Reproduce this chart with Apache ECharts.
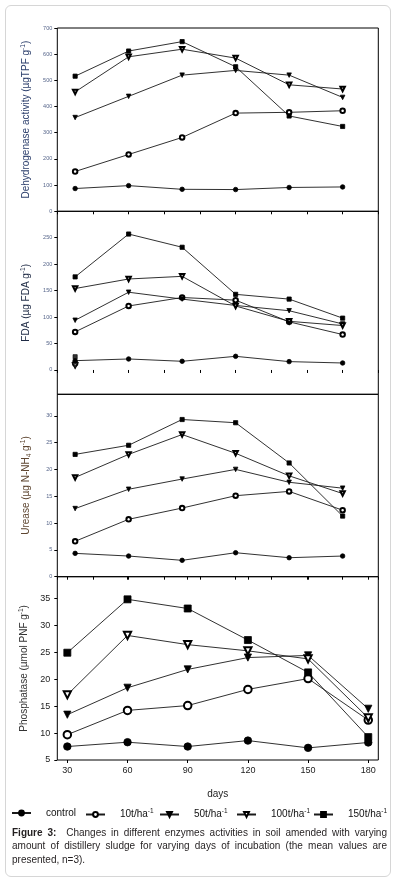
<!DOCTYPE html>
<html lang="en">
<head>
<meta charset="UTF-8">
<title>Figure 3</title>
<script src="https://cdn.jsdelivr.net/npm/echarts@6/dist/echarts.min.js"></script>
<style>
body{margin:0;background:#fff;}
#frame{position:absolute;left:5px;top:5px;width:386px;height:872px;border:1.5px solid #d6d6d6;border-radius:6px;box-sizing:border-box;}
#myChart{position:absolute;left:0;top:0;width:394px;height:884px;}
#caption{position:absolute;left:12px;top:826px;width:375px;font-family:"Liberation Sans",Arial,sans-serif;font-size:10px;line-height:13.4px;text-align:justify;color:#231f20;}
</style>
</head>
<body>
<div id="frame"></div>
<div id="myChart"></div>
<div id="caption"><b>Figure 3:</b>&nbsp; Changes in different enzymes activities in soil amended with varying amount of distillery sludge for varying days of incubation (the mean values are presented, n=3).</div>
<script>
var days = [30, 60, 90, 120, 150, 180];
var seriesNames = ['control', '10t/ha', '50t/ha', '100t/ha', '150t/ha'];

// rows: control, 10t, 50t, 100t, 150t
var dehydrogenase = [
    [87, 98, 84, 83, 91, 93],
    [152, 217, 282, 375, 378, 384],
    [358, 439, 520, 538, 520, 435],
    [456, 590, 619, 585, 483, 467],
    [516, 612, 648, 552, 364, 324]
];
var fda = [
    [17.6, 20.8, 16.4, 25.8, 15.8, 13.2],
    [72, 121, 137, 132, 91, 67],
    [94, 147, 134, 122, 112, 87],
    [154, 172, 177, 121, 92, 84],
    [176, 257, 232, 143, 134, 98]
];
// odd single points drawn at day 30 in the FDA panel
var fdaDay30Extra = [null, 12, 7, 9, 25];
var urease = [
    [4.35, 3.85, 3.05, 4.47, 3.54, 3.85],
    [6.6, 10.7, 12.8, 15.1, 15.9, 12.4],
    [12.7, 16.3, 18.2, 20.0, 17.6, 16.5],
    [18.5, 22.8, 26.5, 23.0, 18.8, 15.5],
    [22.8, 24.5, 29.3, 28.7, 21.2, 11.3]
];
var phosphatase = [
    [7.5, 8.3, 7.5, 8.6, 7.25, 8.25],
    [9.7, 14.2, 15.1, 18.1, 20.1, 12.4],
    [13.4, 18.4, 21.8, 24.0, 24.4, 14.5],
    [17.1, 28.1, 26.4, 25.25, 23.75, 12.8],
    [24.9, 34.8, 33.1, 27.25, 21.25, 9.25]
];

var dhTicks = [0, 100, 200, 300, 400, 500, 600, 700];
var fdaTicks = [0, 50, 100, 150, 200, 250];
var ureaseTicks = [0, 5, 10, 15, 20, 25, 30];
var phosTicks = [5, 10, 15, 20, 25, 30, 35];
var dayTicks = [30, 60, 90, 120, 150, 180];

var font = '"Liberation Sans", Arial, sans-serif';
var symbols = ['circle', 'emptyCircle', 'triangle', 'emptyTriangle', 'rect'];
var rotates = [0, 0, 180, 180, 0];
var smallSize = [4.5, 4.5, 4.5, 4.5, 4.2];
var bigSize = [7.5, 7.5, 7.2, 7.2, 7];

var panels = [
    {data: dehydrogenase, min: 0, max: 700, ticks: dhTicks, top: 28, height: 183.3,
        name: '{a|Dehydrogenase activity (µgTPF g}{s|-1}{a|)}', color: '#2c3f6c', gap: 25, small: true},
    {data: fda, min: -46, max: 300, ticks: fdaTicks, top: 211.3, height: 183,
        name: '{a|FDA (µg FDA g}{s|-1}{a|)}', color: '#1f2b45', gap: 25, small: true},
    {data: urease, min: 0, max: 34, ticks: ureaseTicks, top: 394.3, height: 182.4,
        name: '{a|Urease (µg N-NH}{b|4}{a| g}{s|-1}{a|)}', color: '#5e4631', gap: 25, small: true},
    {data: phosphatase, min: 5, max: 39, ticks: phosTicks, top: 576.7, height: 183.3,
        name: '{a|Phosphatase (µmol PNF g}{s|-1}{a|)}', color: '#333', gap: 24, small: false}
];

var richName = {
    a: {fontSize: 10, fontFamily: font, lineHeight: 13},
    s: {fontSize: 6.5, fontFamily: font, verticalAlign: 'top', lineHeight: 13},
    b: {fontSize: 6.5, fontFamily: font, verticalAlign: 'bottom', lineHeight: 11}
};

var grid = [], xAxis = [], yAxis = [], series = [];

panels.forEach(function (p, i) {
    grid.push({left: 57.3, width: 321, top: p.top, height: p.height,
        show: true, borderColor: '#000', borderWidth: 1, backgroundColor: 'transparent'});
    var rich = {};
    for (var k in richName) rich[k] = Object.assign({color: p.color}, richName[k]);
    yAxis.push({
        gridIndex: i, type: 'value', min: p.min, max: p.max,
        splitLine: {show: false}, axisLine: {show: false},
        axisTick: {show: true, inside: false, length: 3, customValues: p.ticks, lineStyle: {color: '#000', width: 1}},
        axisLabel: {customValues: p.ticks, margin: p.small ? 5 : 7, fontSize: p.small ? 5.5 : 9,
            fontFamily: font, color: p.small ? '#56658a' : '#222'},
        name: p.name, nameLocation: 'middle', nameRotate: 90, nameGap: p.gap,
        nameTextStyle: {rich: rich}
    });
});

// x axes: panels 1-3 run 20..200 with ticks every 20 days, bottom panel 25..185
for (var i = 0; i < 3; i++) {
    xAxis.push({
        gridIndex: i, type: 'value', position: 'top', min: 20, max: 200, interval: 20,
        splitLine: {show: false}, axisLine: {show: false}, axisLabel: {show: false},
        axisTick: {show: true, inside: true, length: 3, lineStyle: {color: '#000'}}
    });
}
xAxis.push({
    gridIndex: 3, type: 'value', position: 'bottom', min: 25, max: 185,
    splitLine: {show: false}, axisLine: {show: false},
    axisTick: {show: true, inside: false, length: 3, customValues: dayTicks, lineStyle: {color: '#000'}},
    axisLabel: {customValues: dayTicks, margin: 6, fontSize: 9, fontFamily: font, color: '#222'},
    name: 'days', nameLocation: 'middle', nameGap: 29,
    nameTextStyle: {fontSize: 10, fontFamily: font, color: '#222'}
});
xAxis.push({
    gridIndex: 3, type: 'value', position: 'top', min: 25, max: 185,
    splitLine: {show: false}, axisLine: {show: false}, axisLabel: {show: false},
    axisTick: {show: true, inside: true, length: 3, customValues: dayTicks, lineStyle: {color: '#000'}}
});

panels.forEach(function (p, i) {
    p.data.forEach(function (vals, j) {
        series.push({
            type: 'line', name: seriesNames[j], xAxisIndex: i, yAxisIndex: i,
            data: days.map(function (d, k) { return [d, vals[k]]; }),
            symbol: symbols[j], symbolRotate: rotates[j],
            symbolSize: p.small ? smallSize[j] : bigSize[j],
            lineStyle: {color: '#1a1a1a', width: 0.9},
            itemStyle: {color: '#000', borderColor: '#000', borderWidth: 0.8},
            emphasis: {disabled: true}, animation: false
        });
    });
});

fdaDay30Extra.forEach(function (v, j) {
    if (v === null) return;
    series.push({
        type: 'scatter', name: seriesNames[j], xAxisIndex: 1, yAxisIndex: 1,
        data: [[30, v]], symbol: symbols[j], symbolRotate: rotates[j], symbolSize: smallSize[j],
        itemStyle: {color: '#000', borderColor: '#000', borderWidth: 0.8}, animation: false
    });
});

var legendLeft = [11, 85, 159, 236, 313];
var legend = seriesNames.map(function (n, j) {
    return {
        data: [n], left: legendLeft[j], top: 808, padding: 0, itemWidth: 19, itemHeight: 6,
        selectedMode: false,
        formatter: function (name) {
            return name === 'control' ? '{a|control}' : '{a|' + name + '}{s|-1}';
        },
        textStyle: {
            padding: [0, 0, 0, 10],
            rich: {
                a: {fontSize: 10, fontFamily: font, color: '#111', lineHeight: 13},
                s: {fontSize: 6.5, fontFamily: font, color: '#111', verticalAlign: 'top', lineHeight: 13}
            }
        }
    };
});

var myChart = echarts.init(document.getElementById('myChart'));
myChart.setOption({
    animation: false,
    grid: grid,
    xAxis: xAxis,
    yAxis: yAxis,
    legend: legend,
    series: series
});
</script>
</body>
</html>
